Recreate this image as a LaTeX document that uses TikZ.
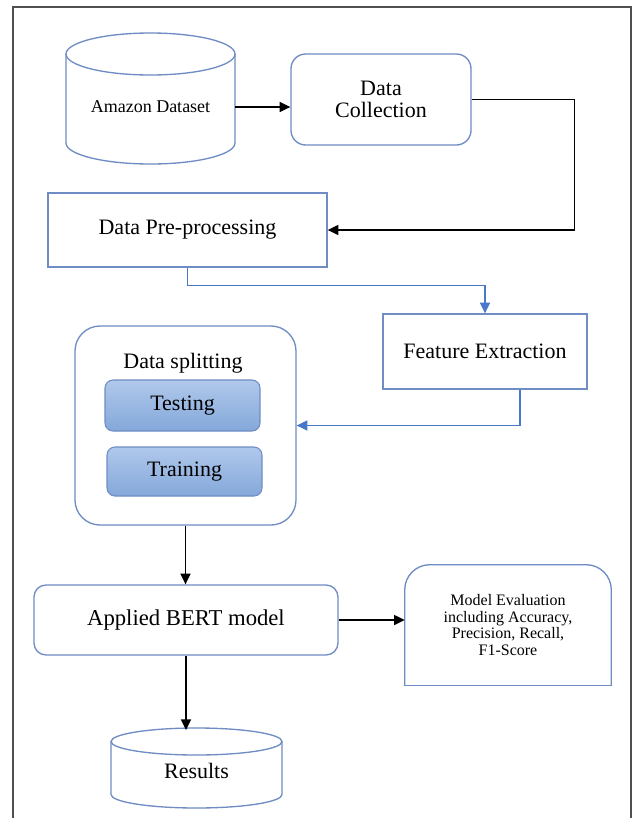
\documentclass[tikz,border=0pt]{standalone}
\usepackage{fontspec}
\setmainfont{Liberation Serif}
\usetikzlibrary{arrows.meta,positioning,calc}
\definecolor{edgeblue}{HTML}{6F8DC4}
\definecolor{linkblue}{HTML}{4A78C8}
\definecolor{frame}{HTML}{505050}
\definecolor{subtop}{HTML}{B0C8EB}
\definecolor{subbot}{HTML}{84A8DA}

\begin{document}
\begin{tikzpicture}[x=0.75pt,y=-0.75pt,>={Triangle[length=8pt,width=7.5pt]},
  box/.style={draw=edgeblue,line width=1pt,fill=white,align=center,font=\fontsize{16.5}{16.5}\selectfont},
  roundbox/.style={box,rounded corners=11pt},
  subbox/.style={draw=edgeblue,line width=0.8pt,rounded corners=6pt,top color=subtop,bottom color=subbot,minimum width=116.25pt,font=\fontsize{16.5}{16.5}\selectfont},
  dbtext/.style={align=center,font=\fontsize{16.5}{16.5}\selectfont},
  dbline/.style={draw=edgeblue,line width=1pt},
  flow/.style={->,line width=1.1pt},
  blueflow/.style={->,draw=linkblue,line width=1pt}]
  \useasboundingbox[fill=white] (0,0) rectangle (634,818);
  \draw[frame,line width=1.2pt] (13,818) -- (13,7) -- (631,7) -- (631,818);

  % top row
  \node[dbtext,minimum width=126.75pt,minimum height=45pt,font=\fontsize{13.5}{14}\selectfont] (amazon) at (150.5,107) {Amazon Dataset};
  \draw[dbline] (66,54) -- (66,143) arc[start angle=180,end angle=360,x radius=63.375pt,y radius=15.75pt] -- (235,54);
  \draw[dbline] (150.5,54) ellipse[x radius=63.375pt,y radius=15.75pt];
  \node[roundbox,minimum width=135pt,minimum height=68.25pt] (dc) at (381,99.5) {Data\\Collection};

  % preparation
  \node[box,minimum width=209.25pt,minimum height=55.5pt] (prep) at (187.5,230) {Data Pre-processing};
  \node[box,minimum width=153pt,minimum height=56.25pt] (fe) at (485,351.5) {Feature Extraction};

  % splitting
  \node[box,rounded corners=18.75pt,minimum width=165.75pt,minimum height=149.25pt] (split) at (185.5,425.5) {};
  \node[dbtext] (splittitle) at (183,363) {Data splitting};
  \node[subbox,minimum height=38.25pt] (test) at (182.5,405.5) {Testing};
  \node[subbox,minimum height=36.75pt] (train) at (184.5,471.5) {Training};

  % model
  \node[roundbox,rounded corners=9pt,minimum width=228pt,minimum height=52.5pt,font=\fontsize{17}{17}\selectfont] (bert) at (186,620) {Applied BERT model};
  \node[align=center,minimum width=154.5pt,minimum height=90pt,font=\fontsize{12}{12.6}\selectfont] (eval) at (508,625) {Model Evaluation\\including Accuracy,\\Precision, Recall,\\F1-Score};
  \draw[dbline,rounded corners=18.75pt] (eval.south west) -- (eval.north west) -- (eval.north east) -- (eval.south east);
  \draw[dbline,line cap=rect] (eval.south west) -- (eval.south east);

  \node[dbtext,minimum width=128.25pt,minimum height=63pt] (results) at (196.5,771) {Results};
  \draw[dbline] (111,741.5) -- (111,794.5) arc[start angle=180,end angle=360,x radius=64.125pt,y radius=10.125pt] -- (282,741.5);
  \draw[dbline] (196.5,741.5) ellipse[x radius=64.125pt,y radius=10.125pt];

  % connectors
  \draw[flow] (amazon.east) -- (amazon.east -| dc.west);
  \draw[flow] (dc.east) -- ++(103,0) |- (prep.east);
  \draw[blueflow] (prep.south) -- ++(0,18) -| (fe.north);
  \draw[blueflow] ([xshift=26.25pt]fe.south) |- (split.east);
  \draw[flow] (split.south) -- (split.south |- bert.north);
  \draw[flow] (bert.east) -- (bert.east -| eval.west);
  \draw[flow] (bert.south) -- ([yshift=-1pt]bert.south |- results.north);
\end{tikzpicture}
\end{document}
